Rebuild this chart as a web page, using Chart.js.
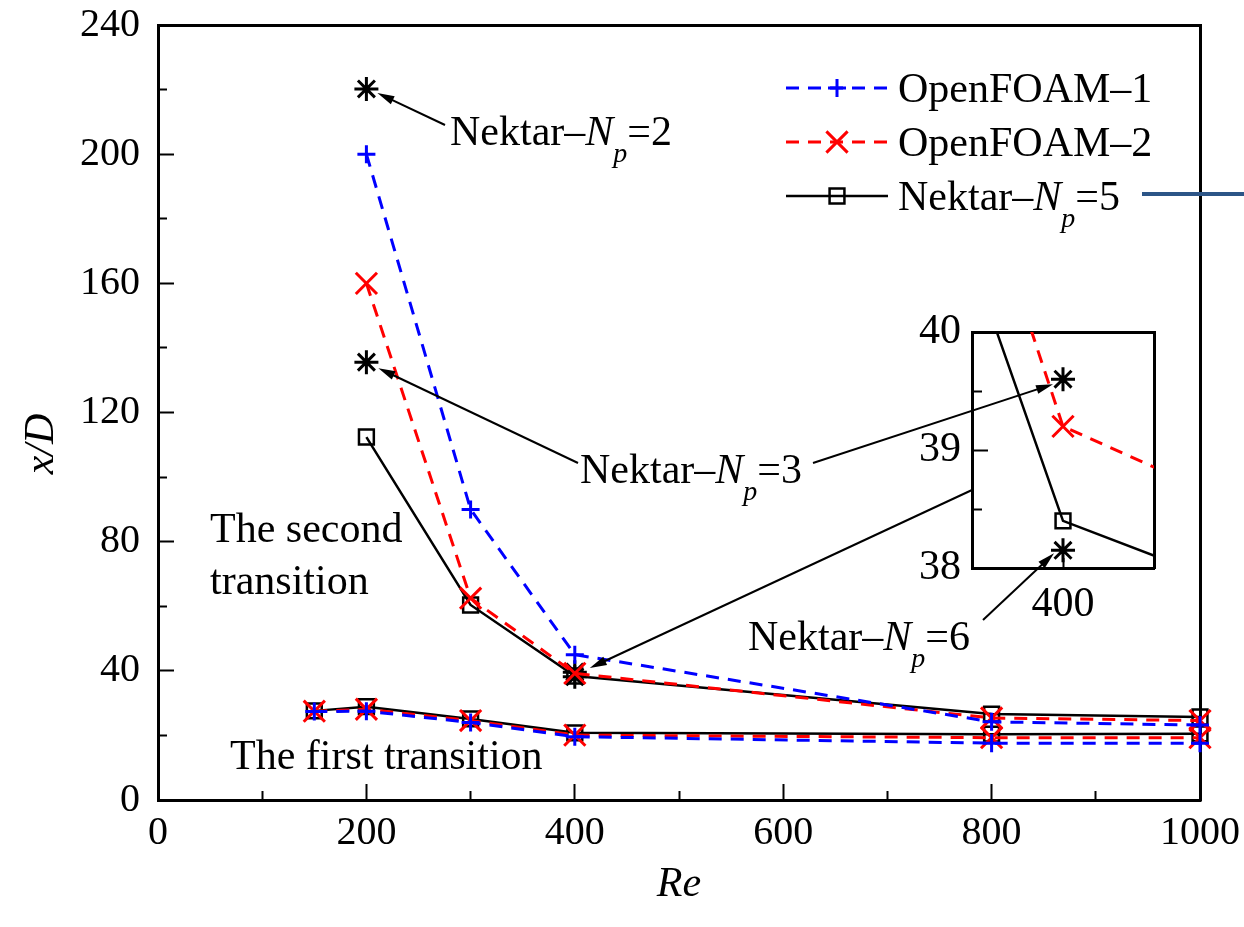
<!DOCTYPE html>
<html lang="en">
<head>
  <meta charset="UTF-8">
  <title>x/D versus Re</title>
  <style>
    body { margin: 0; background: #fff; overflow: hidden; }
    .wrap { position: relative; width: 1244px; height: 927px; }
    .wrap canvas { position: absolute; left: 0; top: 0; }
  </style>
</head>
<body>
<div class="wrap">
  <canvas id="mainChart" width="1244" height="927"></canvas>
  <canvas id="insetChart" width="1244" height="927"></canvas>
</div>

<script src="https://cdn.jsdelivr.net/npm/chart.js"></script>
<script>
  const SERIF = "'Liberation Serif', 'Times New Roman', serif";
  Chart.defaults.font.family = SERIF;
  Chart.defaults.color = '#000';

  // Re values
  const reSecond = [200, 300, 400, 800, 1000];
  const reFirst = [150, 200, 300, 400, 800, 1000];

  // x/D of the second transition
  const foam1Second = [200, 90, 45, 24.2, 23.2];
  const foam2Second = [160, 62.5, 39.2, 25.4, 24.6];
  const nektar5Second = [112.4, 60.4, 38.4, 26.6, 25.7];

  // x/D of the first transition
  const foam1First = [27.4, 27.5, 24.0, 19.6, 17.6, 17.6];
  const foam2First = [27.5, 28.1, 24.6, 20.1, 19.3, 19.3];
  const nektar5First = [27.6, 28.9, 25.1, 20.8, 20.4, 20.5];

  // other Nektar polynomial orders
  const reNp2 = [200];
  const nektarNp2 = [220.2];
  const reNp3 = [200, 400];
  const nektarNp3 = [135.6, 39.6];
  const reNp6 = [400];
  const nektarNp6 = [38.15];

  // ticks
  const xTicks = [0, 200, 400, 600, 800, 1000];
  const xMinorTicks = [100, 300, 500, 700, 900];
  const yTicks = [0, 40, 80, 120, 160, 200, 240];
  const yMinorTicks = [20, 60, 100, 140, 180, 220];
  const insetXTicks = [400];
  const insetYTicks = [38, 39, 40];
  const insetYMinorTicks = [38.5, 39.5];

  const pts = (xs, ys) => xs.map((x, i) => ({ x: x, y: ys[i] }));
  const fixTicks = arr => s => { s.ticks = arr.map(v => ({ value: v })); };
  // fixed box size, and no extra room asked for overflowing labels
  const fixSize = (w, h) => s => {
    if (w !== null) s.width = w;
    if (h !== null) s.height = h;
    s.paddingLeft = s.paddingRight = s.paddingTop = s.paddingBottom = 0;
  };

  const styleFoam1 = {
    borderColor: '#0000ff', borderWidth: 3, borderDash: [13, 9], showLine: true,
    pointStyle: 'cross', pointRadius: 9, pointBorderWidth: 3,
    pointBorderColor: '#0000ff', pointBackgroundColor: 'rgba(0,0,0,0)'
  };
  const styleFoam2 = {
    borderColor: '#ff0000', borderWidth: 3, borderDash: [13, 9], showLine: true,
    pointStyle: 'crossRot', pointRadius: 15, pointBorderWidth: 3,
    pointBorderColor: '#ff0000', pointBackgroundColor: 'rgba(0,0,0,0)'
  };
  const styleNektar5 = {
    borderColor: '#000', borderWidth: 2.5, showLine: true,
    pointStyle: 'rect', pointRadius: 10.5, pointBorderWidth: 2.5,
    pointBorderColor: '#000', pointBackgroundColor: 'rgba(0,0,0,0)'
  };
  const styleStar = {
    borderColor: '#000', showLine: false,
    pointStyle: 'star', pointRadius: 12, pointBorderWidth: 3,
    pointBorderColor: '#000', pointBackgroundColor: 'rgba(0,0,0,0)'
  };

  function makeDatasets() {
    return [
      Object.assign({ label: 'OpenFOAM–1', data: pts(reFirst, foam1First) }, styleFoam1),
      Object.assign({ label: 'OpenFOAM–1', data: pts(reSecond, foam1Second) }, styleFoam1),
      Object.assign({ label: 'OpenFOAM–2', data: pts(reFirst, foam2First) }, styleFoam2),
      Object.assign({ label: 'OpenFOAM–2', data: pts(reSecond, foam2Second) }, styleFoam2),
      Object.assign({ label: 'Nektar–Np=5', data: pts(reFirst, nektar5First) }, styleNektar5),
      Object.assign({ label: 'Nektar–Np=5', data: pts(reSecond, nektar5Second) }, styleNektar5),
      Object.assign({ label: 'Nektar–Np=2', data: pts(reNp2, nektarNp2) }, styleStar),
      Object.assign({ label: 'Nektar–Np=3', data: pts(reNp3, nektarNp3) }, styleStar),
      Object.assign({ label: 'Nektar–Np=6', data: pts(reNp6, nektarNp6) }, styleStar)
    ];
  }

  // text with italic N and subscript p
  function drawRich(ctx, parts, x, y) {
    ctx.textAlign = 'left';
    ctx.textBaseline = 'alphabetic';
    parts.forEach(([t, st]) => {
      if (st === 's') ctx.font = 'italic 28px ' + SERIF;
      else if (st === 'i') ctx.font = 'italic 42px ' + SERIF;
      else ctx.font = '42px ' + SERIF;
      ctx.fillText(t, x, st === 's' ? y + 17 : y);
      x += ctx.measureText(t).width;
    });
  }
  const npLabel = n => [['Nektar–', 'n'], ['N', 'i'], ['p', 's'], ['=' + n, 'n']];

  function arrow(ctx, x1, y1, x2, y2) {
    const a = Math.atan2(y2 - y1, x2 - x1);
    const c = Math.cos(a), s = Math.sin(a);
    const L = 17, W = 4.5;
    ctx.lineWidth = 2;
    ctx.beginPath();
    ctx.moveTo(x1, y1);
    ctx.lineTo(x2 - c * L * 0.7, y2 - s * L * 0.7);
    ctx.stroke();
    ctx.beginPath();
    ctx.moveTo(x2, y2);
    ctx.lineTo(x2 - c * L - s * W, y2 - s * L + c * W);
    ctx.lineTo(x2 - c * L + s * W, y2 - s * L - c * W);
    ctx.closePath();
    ctx.fill();
  }

  function legendMarker(ctx, style, x, y) {
    ctx.setLineDash([]);
    ctx.lineWidth = style.pointBorderWidth;
    ctx.strokeStyle = style.pointBorderColor;
    ctx.fillStyle = 'rgba(0,0,0,0)';
    Chart.helpers.drawPoint(ctx, {
      pointStyle: style.pointStyle, radius: style.pointRadius,
      borderWidth: style.pointBorderWidth, rotation: 0
    }, x, y);
  }

  // legend + the stray bar on the right
  const legendPlugin = {
    id: 'legendBox',
    afterDraw(chart) {
      const ctx = chart.ctx;
      const rows = [
        { style: styleFoam1, y: 88, text: [['OpenFOAM–1', 'n']] },
        { style: styleFoam2, y: 142, text: [['OpenFOAM–2', 'n']] },
        { style: styleNektar5, y: 196, text: npLabel('5') }
      ];
      ctx.save();
      rows.forEach(r => {
        ctx.strokeStyle = r.style.borderColor;
        ctx.lineWidth = r.style.borderWidth;
        ctx.setLineDash(r.style.borderDash || []);
        ctx.beginPath();
        ctx.moveTo(786, r.y);
        ctx.lineTo(888, r.y);
        ctx.stroke();
        legendMarker(ctx, r.style, 837, r.y);
        ctx.fillStyle = '#000';
        drawRich(ctx, r.text, 898, r.y + 14);
      });
      ctx.setLineDash([]);
      ctx.strokeStyle = '#2c5587';
      ctx.lineWidth = 4;
      ctx.beginPath();
      ctx.moveTo(1142, 194);
      ctx.lineTo(1244, 194);
      ctx.stroke();
      ctx.restore();
    }
  };

  const tickFont = { family: SERIF, size: 40 };
  const insetTickFont = { family: SERIF, size: 42 };
  const titleFont = { family: SERIF, size: 42, style: 'italic' };
  const tickGrid = len => ({ drawOnChartArea: false, tickLength: len, tickWidth: 2, tickColor: '#000' });
  const plainEdge = { drawOnChartArea: false, drawTicks: false };

  const mainChart = new Chart(document.getElementById('mainChart'), {
    type: 'scatter',
    data: { datasets: makeDatasets().map(d => Object.assign(d, { clip: false })) },
    options: {
      responsive: false,
      animation: false,
      events: [],
      layout: { padding: { left: 0, top: 25, right: 44, bottom: 0 } },
      plugins: { legend: { display: false }, tooltip: { enabled: false } },
      scales: {
        x: {
          type: 'linear', position: 'bottom', min: 0, max: 1000, weight: 1,
          afterBuildTicks: fixTicks(xTicks),
          afterFit: fixSize(null, 127),
          ticks: { font: tickFont, color: '#000', padding: 25, maxRotation: 0, autoSkip: false, callback: v => String(v) },
          grid: tickGrid(-16),
          border: { color: '#000', width: 3 },
          title: { display: true, text: 'Re', font: titleFont, color: '#000', padding: { bottom: 17 } }
        },
        xMinor: {
          type: 'linear', position: 'bottom', min: 0, max: 1000, weight: 0,
          afterBuildTicks: fixTicks(xMinorTicks),
          afterFit: fixSize(null, 0),
          ticks: { display: false },
          grid: tickGrid(-9),
          border: { display: false }
        },
        xTop: {
          type: 'linear', position: 'top', min: 0, max: 1000,
          afterFit: fixSize(null, 0),
          ticks: { display: false },
          grid: plainEdge,
          border: { color: '#000', width: 3 }
        },
        y: {
          type: 'linear', position: 'left', min: 0, max: 240, weight: 1,
          afterBuildTicks: fixTicks(yTicks),
          afterFit: fixSize(158, null),
          ticks: { font: tickFont, color: '#000', padding: 34, autoSkip: false, callback: v => String(v) },
          grid: tickGrid(-16),
          border: { color: '#000', width: 3 },
          title: { display: true, text: 'x/D      ', font: titleFont, color: '#000', padding: { top: 17 } }
        },
        yMinor: {
          type: 'linear', position: 'left', min: 0, max: 240, weight: 0,
          afterBuildTicks: fixTicks(yMinorTicks),
          afterFit: fixSize(0, null),
          ticks: { display: false },
          grid: tickGrid(-9),
          border: { display: false }
        },
        yRight: {
          type: 'linear', position: 'right', min: 0, max: 240,
          afterFit: fixSize(0, null),
          ticks: { display: false },
          grid: plainEdge,
          border: { color: '#000', width: 3 }
        }
      }
    },
    plugins: [legendPlugin]
  });

  // white box under the inset, then all labels and arrows on top
  const insetPlugin = {
    id: 'insetAndNotes',
    beforeDraw(chart) {
      const a = chart.chartArea;
      chart.ctx.save();
      chart.ctx.fillStyle = '#fff';
      chart.ctx.fillRect(a.left, a.top, a.right - a.left, a.bottom - a.top);
      chart.ctx.restore();
    },
    afterDraw(chart) {
      const ctx = chart.ctx;
      const mx = mainChart.scales.x, my = mainChart.scales.y;
      const ix = chart.scales.x, iy = chart.scales.y;
      ctx.save();
      ctx.fillStyle = '#000';
      ctx.strokeStyle = '#000';

      drawRich(ctx, npLabel('2'), 450, 145);
      drawRich(ctx, npLabel('3'), 580, 483);
      drawRich(ctx, npLabel('6'), 748, 650);
      ctx.font = '42px ' + SERIF;
      ctx.fillText('The second', 210, 542);
      ctx.fillText('transition', 210, 594);
      ctx.fillText('The first transition', 230, 769);

      const s2x = mx.getPixelForValue(reNp2[0]), s2y = my.getPixelForValue(nektarNp2[0]);
      arrow(ctx, 445, 125, s2x + 11, s2y + 4);
      const s3x = mx.getPixelForValue(reNp3[0]), s3y = my.getPixelForValue(nektarNp3[0]);
      arrow(ctx, 578, 463, s3x + 12, s3y + 6);
      const i3x = ix.getPixelForValue(reNp3[1]), i3y = iy.getPixelForValue(nektarNp3[1]);
      arrow(ctx, 813, 463, i3x - 10, i3y + 5);
      const i6x = ix.getPixelForValue(reNp6[0]), i6y = iy.getPixelForValue(nektarNp6[0]);
      arrow(ctx, 983, 620, i6x - 9, i6y + 3);
      const p4x = mx.getPixelForValue(reSecond[2]), p4y = my.getPixelForValue(nektar5Second[2]);
      arrow(ctx, chart.chartArea.left, 490, p4x + 15, p4y - 8);
      ctx.restore();
    }
  };

  new Chart(document.getElementById('insetChart'), {
    type: 'scatter',
    data: { datasets: makeDatasets() },
    options: {
      responsive: false,
      animation: false,
      events: [],
      layout: { padding: { left: 900, top: 332, right: 90, bottom: 300 } },
      plugins: { legend: { display: false }, tooltip: { enabled: false } },
      scales: {
        x: {
          type: 'linear', position: 'bottom', min: 390, max: 410, weight: 1,
          afterBuildTicks: fixTicks(insetXTicks),
          afterFit: fixSize(null, 59),
          ticks: { font: insetTickFont, color: '#000', padding: 22, maxRotation: 0, autoSkip: false, callback: v => String(v) },
          grid: tickGrid(-10),
          border: { color: '#000', width: 3 }
        },
        xTop: {
          type: 'linear', position: 'top', min: 390, max: 410,
          afterFit: fixSize(null, 0),
          ticks: { display: false },
          grid: plainEdge,
          border: { color: '#000', width: 3 }
        },
        y: {
          type: 'linear', position: 'left', min: 38, max: 40, weight: 1,
          afterBuildTicks: fixTicks(insetYTicks),
          afterFit: fixSize(72, null),
          ticks: { font: insetTickFont, color: '#000', padding: 27, autoSkip: false, callback: v => String(v) },
          grid: tickGrid(-16),
          border: { color: '#000', width: 3 }
        },
        yMinor: {
          type: 'linear', position: 'left', min: 38, max: 40, weight: 0,
          afterBuildTicks: fixTicks(insetYMinorTicks),
          afterFit: fixSize(0, null),
          ticks: { display: false },
          grid: tickGrid(-10),
          border: { display: false }
        },
        yRight: {
          type: 'linear', position: 'right', min: 38, max: 40,
          afterFit: fixSize(0, null),
          ticks: { display: false },
          grid: plainEdge,
          border: { color: '#000', width: 3 }
        }
      }
    },
    plugins: [insetPlugin]
  });
</script>
</body>
</html>
